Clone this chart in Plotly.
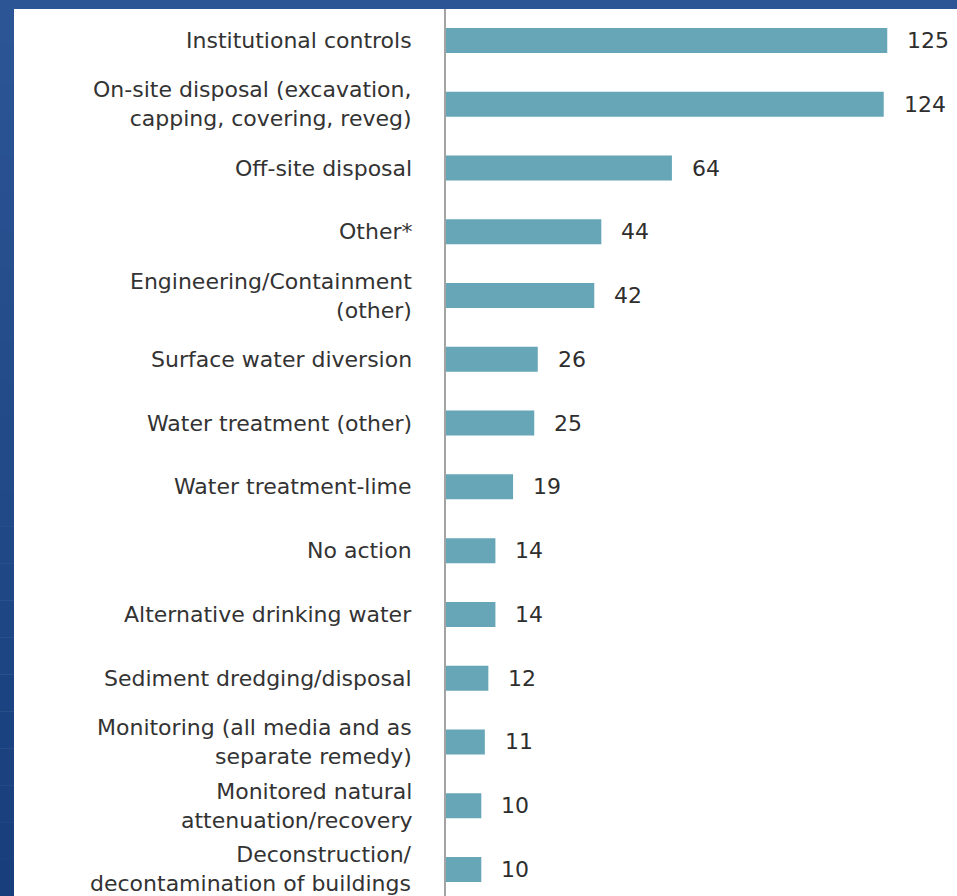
import plotly.graph_objects as go

categories = [
    "Institutional controls",
    "On-site disposal (excavation,<br>capping, covering, reveg)",
    "Off-site disposal",
    "Other*",
    "Engineering/Containment<br>(other)",
    "Surface water diversion",
    "Water treatment (other)",
    "Water treatment-lime",
    "No action",
    "Alternative drinking water",
    "Sediment dredging/disposal",
    "Monitoring (all media and as<br>separate remedy)",
    "Monitored natural<br>attenuation/recovery",
    "Deconstruction/<br>decontamination of buildings",
]
values = [125, 124, 64, 44, 42, 26, 25, 19, 14, 14, 12, 11, 10, 10]

W, H = 957, 896
L, T = 446, 9
plot_w = W - L
plot_h = H - T
FONT = "DejaVu Sans"
FS = 22

positions = list(range(len(categories)))

fig = go.Figure(go.Bar(
    x=values, y=positions, orientation="h",
    marker=dict(color="#66a6b7", line=dict(width=0)),
    width=0.392, hoverinfo="skip",
))

# value labels
for v, p in zip(values, positions):
    fig.add_annotation(x=v, y=p, text=str(v), showarrow=False,
                       xanchor="left", yanchor="middle", xshift=18,
                       font=dict(family=FONT, size=FS, color="#2e2e2e"))

def px_x(px):
    return (px - L) / plot_w

def px_y(py):
    return (H - py) / plot_h

# category labels
for cat, p in zip(categories, positions):
    fig.add_annotation(xref="paper", x=px_x(414), y=p, yref="y",
                       text=cat, showarrow=False, align="right",
                       xanchor="right", yanchor="middle",
                       font=dict(family=FONT, size=FS, color="#333333"))

# blue frame (top strip and left strip with vertical gradient)
shapes = []
shapes.append(dict(type="rect", xref="paper", yref="paper",
                   x0=px_x(0), x1=px_x(W), y0=px_y(T), y1=px_y(0),
                   fillcolor="#2c5595", line=dict(width=0), layer="above"))
nb = 24
c_top = (44, 85, 149)
c_bot = (24, 62, 124)
for i in range(nb):
    f = i / (nb - 1)
    col = tuple(int(round(a + (b - a) * f)) for a, b in zip(c_top, c_bot))
    y0p = T + (H - T) * i / nb
    y1p = T + (H - T) * (i + 1) / nb
    shapes.append(dict(type="rect", xref="paper", yref="paper",
                       x0=px_x(0), x1=px_x(14), y0=px_y(y1p + 0.5), y1=px_y(y0p),
                       fillcolor="rgb(%d,%d,%d)" % col, line=dict(width=0), layer="above"))

fig.update_layout(
    width=W, height=H,
    margin=dict(l=L, r=0, t=T, b=0, pad=0),
    paper_bgcolor="white", plot_bgcolor="white",
    showlegend=False,
    shapes=shapes,
    xaxis=dict(range=[0, plot_w / 3.53], visible=False, fixedrange=True),
    yaxis=dict(
        range=[13.416, -0.494],
        showticklabels=False,
        showgrid=False, zeroline=False,
        showline=True, linecolor="#a3a3a3", linewidth=2,
        ticks="",
        fixedrange=True,
    ),
)

fig.write_html("out.html",
               config={"displayModeBar": False},
               post_script="document.body.style.margin='0';document.body.style.padding='0';document.body.style.overflow='hidden';")
